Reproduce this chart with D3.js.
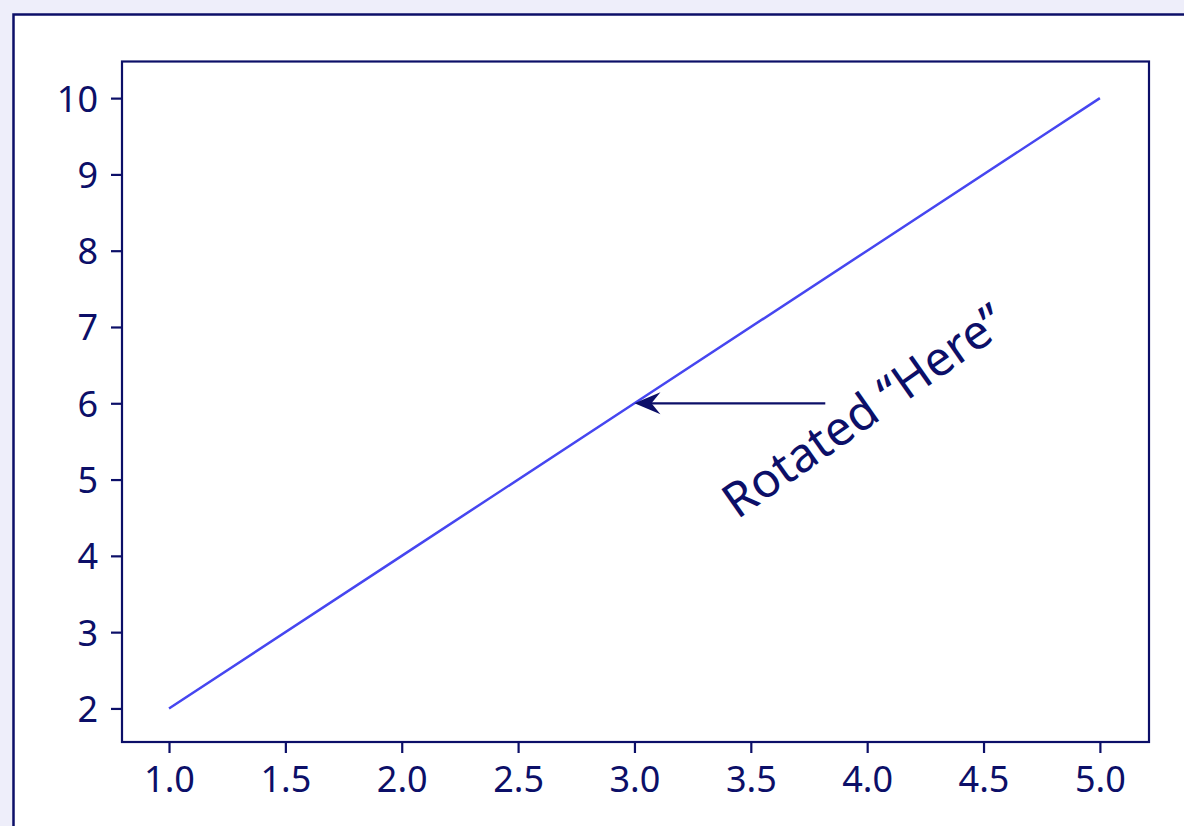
<!DOCTYPE html>
<html>
<head>
<meta charset="utf-8">
<script src="https://d3js.org/d3.v7.min.js"></script>
<style>
  body { margin: 0; background: #eeeefa; }
  text { font-family: "Noto Sans", sans-serif; }
</style>
</head>
<body>
<svg id="chart" width="1184" height="826"></svg>
<script>
// data
var xs = [1, 2, 3, 4, 5];
var ys = [2, 4, 6, 8, 10];
var xTicks = [1.0, 1.5, 2.0, 2.5, 3.0, 3.5, 4.0, 4.5, 5.0];
var yTicks = [2, 3, 4, 5, 6, 7, 8, 9, 10];
var noteText = "Rotated \u201cHere\u201d";
var notePoint = [3, 6];      // arrow tip
var noteTail = [3.82, 6.0];  // arrow start
var noteCenter = [3.985, 5.9];

var navy = "#0c0f68";
var lineColor = "#4646f0";

var svg = d3.select("#chart");

// white panel
svg.append("rect")
  .attr("x", 13.5).attr("y", 14.5)
  .attr("width", 1200).attr("height", 900)
  .attr("fill", "white")
  .attr("stroke", navy)
  .attr("stroke-width", 2.5);

var x = d3.scaleLinear().domain([0.798, 5.211]).range([122, 1149]);
var y = d3.scaleLinear().domain([1.56, 10.48]).range([742, 61.5]);

// axes box
svg.append("rect")
  .attr("x", x.range()[0]).attr("y", y.range()[1])
  .attr("width", x.range()[1] - x.range()[0])
  .attr("height", y.range()[0] - y.range()[1])
  .attr("fill", "none")
  .attr("stroke", navy)
  .attr("stroke-width", 2.2);

var xAxis = svg.append("g")
  .attr("transform", "translate(0," + y.range()[0] + ")")
  .call(d3.axisBottom(x).tickValues(xTicks).tickFormat(d3.format(".1f")).tickSize(11).tickPadding(13));
var yAxis = svg.append("g")
  .attr("transform", "translate(" + x.range()[0] + ",0)")
  .call(d3.axisLeft(y).tickValues(yTicks).tickFormat(d3.format("d")).tickSize(11).tickPadding(13));

[xAxis, yAxis].forEach(function(g) {
  g.select(".domain").remove();
  g.selectAll("line").attr("stroke", navy).attr("stroke-width", 2.2);
  g.selectAll("text").attr("fill", navy).style("font-size", "36px").style("font-family", "'Noto Sans', sans-serif");
});
yAxis.selectAll("text").attr("dy", "0.36em");

// line
var line = d3.line().x(function(d, i) { return x(xs[i]); }).y(function(d) { return y(d); });
svg.append("path")
  .datum(ys)
  .attr("d", line)
  .attr("fill", "none")
  .attr("stroke", lineColor)
  .attr("stroke-width", 2.5);

// annotation arrow
svg.append("line")
  .attr("x1", x(noteTail[0])).attr("y1", y(noteTail[1]))
  .attr("x2", x(notePoint[0]) + 10).attr("y2", y(notePoint[1]))
  .attr("stroke", navy)
  .attr("stroke-width", 2.2);
svg.append("path")
  .attr("d", "M0,0 L26,-11 L17,0 L26,11 Z")
  .attr("fill", navy)
  .attr("transform", "translate(" + x(notePoint[0]) + "," + y(notePoint[1]) + ")");

svg.append("text")
  .attr("transform", "translate(" + x(noteCenter[0]) + "," + y(noteCenter[1]) + ") rotate(-35)")
  .attr("text-anchor", "middle")
  .attr("dy", "0.35em")
  .attr("fill", navy)
  .style("font-size", "48px")
  .text(noteText);
</script>
</body>
</html>
